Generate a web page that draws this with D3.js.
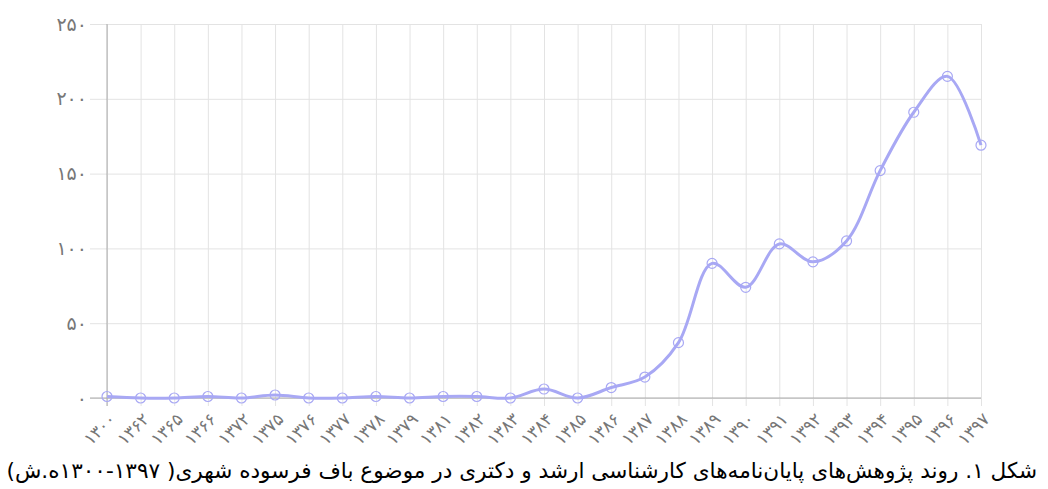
<!DOCTYPE html>
<html>
<head>
<meta charset="utf-8">
<script src="https://cdn.jsdelivr.net/npm/d3@7"></script>
<style>
  body { margin: 0; background: #fff; }
  svg { display: block; }
  .tick text { font-family: "DejaVu Sans", sans-serif; }
</style>
</head>
<body>
<div id="chart"></div>
<script>
// years (solar hijri) and number of theses per year
var years = ["۱۳۰۰", "۱۳۶۲", "۱۳۶۵", "۱۳۶۶", "۱۳۷۲", "۱۳۷۵", "۱۳۷۶", "۱۳۷۷", "۱۳۷۸",
    "۱۳۷۹", "۱۳۸۱", "۱۳۸۲", "۱۳۸۳", "۱۳۸۴", "۱۳۸۵", "۱۳۸۶", "۱۳۸۷", "۱۳۸۸",
    "۱۳۸۹", "۱۳۹۰", "۱۳۹۱", "۱۳۹۲", "۱۳۹۳", "۱۳۹۴", "۱۳۹۵", "۱۳۹۶", "۱۳۹۷"];
var counts = [1, 0, 0, 1, 0, 2, 0, 0, 1, 0, 1, 1, 0, 6, 0, 7, 14, 37, 90, 74, 103, 91, 105, 152, 191, 215, 169];
var yTicks = [0, 50, 100, 150, 200, 250];
var yTickLabels = ["۰", "۵۰", "۱۰۰", "۱۵۰", "۲۰۰", "۲۵۰"];
var caption = "شکل ۱. روند پژوهش‌های پایان‌نامه‌های کارشناسی ارشد و دکتری در موضوع باف فرسوده شهری( ۱۳۹۷-۱۳۰۰ه.ش)";

var width = 1048, height = 489;
var mLeft = 107, mRight = 981, mTop = 24, mBottom = 398;
var lineColor = "#a8a8f4";

var svg = d3.select("#chart").append("svg")
    .attr("width", width)
    .attr("height", height);

var x = d3.scalePoint().domain(years).range([mLeft, mRight]);
var y = d3.scaleLinear().domain([0, 250]).range([mBottom, mTop]);

// horizontal grid + y labels
var yAxis = d3.axisLeft(y)
    .tickValues(yTicks)
    .tickSize(-(mRight - mLeft))
    .tickPadding(20)
    .tickFormat(function(d, i) { return yTickLabels[i]; });
var gy = svg.append("g")
    .attr("transform", "translate(" + mLeft + ",0)")
    .call(yAxis);
gy.select(".domain").remove();
gy.selectAll(".tick line").attr("stroke", "#e3e3e3").attr("x1", -17);
gy.selectAll(".tick text").attr("fill", "#777").attr("font-size", 19);

// vertical grid + x labels
var xAxis = d3.axisBottom(x)
    .tickSize(-(mBottom - mTop))
    .tickPadding(6);
var gx = svg.append("g")
    .attr("transform", "translate(0," + mBottom + ")")
    .call(xAxis);
gx.select(".domain").remove();
gx.selectAll(".tick line").attr("stroke", "#e3e3e3").attr("y1", 8);
gx.selectAll(".tick text")
    .attr("fill", "#777")
    .attr("font-size", 17)
    .attr("text-anchor", "end")
    .attr("dy", "0.35em")
    .attr("transform", "translate(5,18) rotate(-45)")
    .attr("y", 0)
    .attr("x", 0);

// axis lines
svg.append("line")
    .attr("x1", mLeft).attr("x2", mLeft)
    .attr("y1", mTop).attr("y2", mBottom + 8)
    .attr("stroke", "#aaa");
svg.append("line")
    .attr("x1", mLeft - 17).attr("x2", mRight)
    .attr("y1", mBottom).attr("y2", mBottom)
    .attr("stroke", "#aaa");

var data = years.map(function(d, i) { return { year: d, value: counts[i] }; });

var line = d3.line()
    .x(function(d) { return x(d.year); })
    .y(function(d) { return y(d.value); })
    .curve(d3.curveCatmullRom);

svg.append("path")
    .datum(data)
    .attr("fill", "none")
    .attr("stroke", lineColor)
    .attr("stroke-width", 3)
    .attr("d", line);

svg.selectAll(".pt")
    .data(data)
    .enter().append("circle")
    .attr("class", "pt")
    .attr("cx", function(d) { return x(d.year); })
    .attr("cy", function(d) { return y(d.value); })
    .attr("r", 5)
    .attr("fill", "none")
    .attr("stroke", lineColor)
    .attr("stroke-width", 1.2);

// caption
svg.append("text")
    .attr("x", 1037)
    .attr("y", 478)
    .attr("direction", "rtl")
    .attr("text-anchor", "start")
    .attr("font-family", "DejaVu Sans, sans-serif")
    .attr("font-size", 21.6)
    .attr("fill", "#000")
    .text(caption);
</script>
</body>
</html>
